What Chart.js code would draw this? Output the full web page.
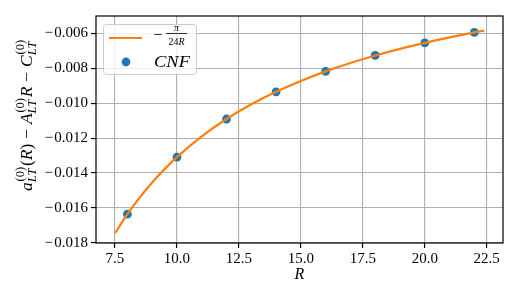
<!DOCTYPE html>
<html>
<head>
<meta charset="utf-8">
<script src="https://cdn.jsdelivr.net/npm/chart.js@4/dist/chart.umd.min.js"></script>
<style>
html,body{margin:0;padding:0;background:#fff;}
#wrap{width:520px;height:300px;}
</style>
</head>
<body>
<div id="wrap"><canvas id="c" width="520" height="300"></canvas></div>
<script>
// ---- data ----
const cnfR = [8, 10, 12, 14, 16, 18, 20, 22];
const cnfValues = [-0.01636, -0.01309, -0.01091, -0.00935, -0.00818, -0.00727, -0.00655, -0.00595];
const curveR = [7.5, 8, 8.5, 9, 9.5, 10, 11, 12, 13, 14, 15, 16, 17, 18, 19, 20, 21, 22, 22.4];
const curveValues = [-0.017453, -0.016362, -0.015400, -0.014544, -0.013779, -0.013090, -0.011900, -0.010908,
  -0.010069, -0.009350, -0.008727, -0.008181, -0.007700, -0.007272, -0.006889, -0.006545, -0.006233, -0.005950, -0.005844];
const xTicks = [7.5, 10.0, 12.5, 15.0, 17.5, 20.0, 22.5];
const yTicks = [-0.018, -0.016, -0.014, -0.012, -0.010, -0.008, -0.006];
const curveLabel = '−π/(24R)';
const cnfLabel = 'CNF';
const xTitle = 'R';

const SERIF = '"Liberation Serif", "DejaVu Serif", serif';
const ORANGE = '#ff7f0e';
const BLUE = '#1f77b4';

const fmtY = v => (v < 0 ? '\u2212\u200A' : '') + Math.abs(v).toFixed(3);

const decor = {
  id: 'decor',
  afterDatasetsDraw(chart) {
    const ctx = chart.ctx;
    const a = chart.chartArea;
    ctx.save();
    ctx.strokeStyle = '#000';
    ctx.lineWidth = 1.2;
    ctx.strokeRect(a.left, a.top, a.right - a.left, a.bottom - a.top);
    ctx.restore();
  },
  afterDraw(chart) {
    const ctx = chart.ctx;
    const a = chart.chartArea;
    ctx.save();
    ctx.fillStyle = '#000';
    // x title
    ctx.font = 'italic 16px ' + SERIF;
    ctx.textAlign = 'center';
    ctx.textBaseline = 'middle';
    ctx.fillText(xTitle, (a.left + a.right) / 2, 275);

    // y title:  a_LT^(0)(R) − A_LT^(0) R − C_LT^(0)
    const main = 16, scr = 11.5;
    const fI = 'italic ' + main + 'px ' + SERIF;
    const fU = main + 'px ' + SERIF;
    const sI = 'italic ' + scr + 'px ' + SERIF;
    const sU = scr + 'px ' + SERIF;
    const parts = [
      {t:'a', f:fI}, {stack:true},
      {t:'(', f:fU}, {t:'R', f:fI}, {t:')', f:fU},
      {t:'\u2212', f:fU, pad:4.5},
      {t:'A', f:fI}, {stack:true}, {t:'R', f:fI},
      {t:'\u2212', f:fU, pad:4.5},
      {t:'C', f:fI}, {stack:true}
    ];
    const widthOf = p => {
      if (p.stack) {
        ctx.font = sU; const w1 = ctx.measureText('(0)').width;
        ctx.font = sI; const w2 = ctx.measureText('LT').width;
        return Math.max(w1, w2) + 1.5;
      }
      ctx.font = p.f; return ctx.measureText(p.t).width + 2 * (p.pad || 0);
    };
    let total = 0;
    parts.forEach(p => total += widthOf(p));
    const target = 152;
    ctx.translate(32, 115);
    ctx.rotate(-Math.PI / 2);
    ctx.scale(target / total, 1);
    ctx.textAlign = 'left';
    ctx.textBaseline = 'alphabetic';
    let x = -total / 2;
    parts.forEach(p => {
      const w = widthOf(p);
      if (p.stack) {
        ctx.font = sU; ctx.fillText('(0)', x + 0.8, -8);
        ctx.font = sI; ctx.fillText('LT', x, 4);
      } else {
        ctx.font = p.f; ctx.fillText(p.t, x + (p.pad || 0), 0);
      }
      x += w;
    });
    ctx.restore();

    // legend
    ctx.save();
    const bx = 103.5, by = 24.5, bw = 93, bh = 50, r = 3;
    ctx.beginPath();
    ctx.moveTo(bx + r, by);
    ctx.lineTo(bx + bw - r, by); ctx.arcTo(bx + bw, by, bx + bw, by + r, r);
    ctx.lineTo(bx + bw, by + bh - r); ctx.arcTo(bx + bw, by + bh, bx + bw - r, by + bh, r);
    ctx.lineTo(bx + r, by + bh); ctx.arcTo(bx, by + bh, bx, by + bh - r, r);
    ctx.lineTo(bx, by + r); ctx.arcTo(bx, by, bx + r, by, r);
    ctx.closePath();
    ctx.fillStyle = 'rgba(255,255,255,0.8)';
    ctx.fill();
    ctx.strokeStyle = '#cccccc';
    ctx.lineWidth = 1;
    ctx.stroke();
    ctx.strokeStyle = ORANGE;
    ctx.lineWidth = 2.2;
    ctx.beginPath(); ctx.moveTo(109, 38); ctx.lineTo(142, 38); ctx.stroke();
    ctx.fillStyle = BLUE;
    ctx.beginPath(); ctx.arc(126, 62, 4.4, 0, Math.PI * 2); ctx.fill();
    ctx.fillStyle = '#000';
    ctx.font = fU; ctx.textAlign = 'left'; ctx.textBaseline = 'middle';
    ctx.fillText('\u2212', 153.5, 35.5);
    ctx.textAlign = 'center';
    ctx.font = 'italic 10px ' + SERIF;
    ctx.textBaseline = 'alphabetic';
    ctx.fillText('π', 176.5, 30.5);
    ctx.fillRect(166, 33, 21, 0.8);
    ctx.font = '10px ' + SERIF;
    const w24 = ctx.measureText('24').width;
    ctx.font = 'italic 10px ' + SERIF;
    const wR = ctx.measureText('R').width;
    const sx = 176.5 - (w24 + wR) / 2;
    ctx.textAlign = 'left';
    ctx.font = '10px ' + SERIF; ctx.fillText('24', sx, 44.5);
    ctx.font = 'italic 10px ' + SERIF; ctx.fillText('R', sx + w24, 44.5);
    ctx.font = 'italic 16px ' + SERIF;
    ctx.textBaseline = 'middle';
    const wc = ctx.measureText(cnfLabel).width;
    ctx.translate(154, 62.5);
    ctx.scale(36 / wc, 1);
    ctx.fillText(cnfLabel, 0, 0);
    ctx.restore();
  }
};

new Chart(document.getElementById('c'), {
  type: 'line',
  data: {
    datasets: [
      {
        label: curveLabel,
        data: curveR.map((r, i) => ({x: r, y: curveValues[i]})),
        borderColor: ORANGE,
        backgroundColor: ORANGE,
        borderWidth: 2.2,
        pointRadius: 0,
        cubicInterpolationMode: 'monotone',
        fill: false,
        order: 0
      },
      {
        type: 'scatter',
        label: cnfLabel,
        data: cnfR.map((r, i) => ({x: r, y: cnfValues[i]})),
        backgroundColor: BLUE,
        borderColor: BLUE,
        borderWidth: 0,
        pointRadius: 4.4,
        showLine: false,
        order: 1
      }
    ]
  },
  options: {
    responsive: false,
    animation: false,
    devicePixelRatio: 1,
    layout: {padding: {left: 0, right: 17, top: 16, bottom: 0}},
    plugins: {legend: {display: false}, tooltip: {enabled: false}},
    scales: {
      x: {
        type: 'linear',
        min: 6.734, max: 23.157,
        afterBuildTicks: s => { s.ticks = xTicks.map(v => ({value: v})); },
        afterFit: s => { s.height = 57; },
        ticks: {
          callback: v => Number(v).toFixed(1),
          color: '#000', padding: 2,
          font: {family: SERIF, size: 15}
        },
        grid: {color: '#b0b0b0', lineWidth: 1.1, tickLength: 5, tickColor: '#000', tickWidth: 1.2, drawTicks: true},
        border: {display: false}
      },
      y: {
        type: 'linear',
        min: -0.01801, max: -0.00501,
        afterBuildTicks: s => { s.ticks = yTicks.map(v => ({value: v})); },
        afterFit: s => { s.width = 96; },
        ticks: {
          callback: v => fmtY(v),
          color: '#000', padding: 3,
          font: {family: SERIF, size: 15}
        },
        grid: {color: '#b0b0b0', lineWidth: 1.1, tickLength: 5, tickColor: '#000', tickWidth: 1.2, drawTicks: true},
        border: {display: false}
      }
    }
  },
  plugins: [decor]
});
</script>
</body>
</html>
